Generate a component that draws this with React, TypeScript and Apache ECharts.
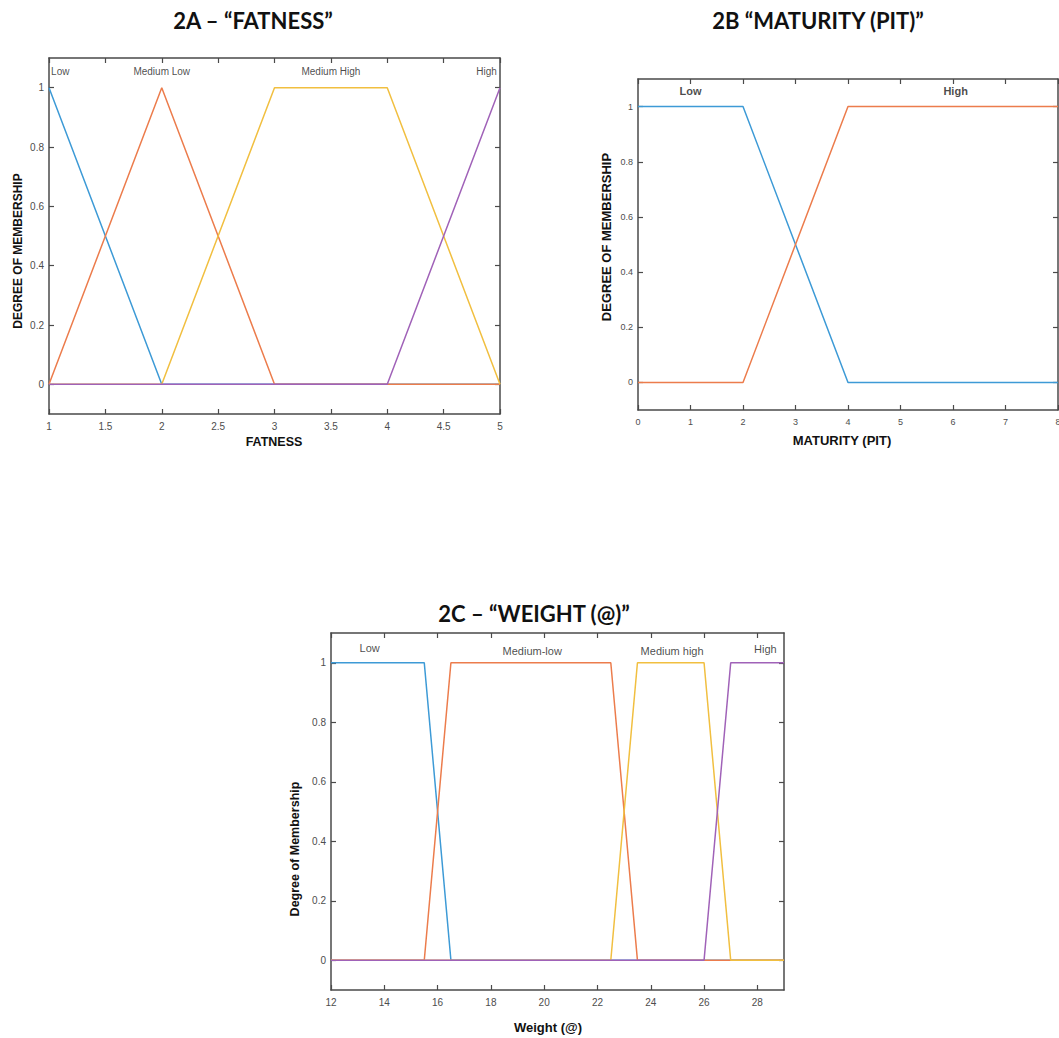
import React, { useEffect, useRef } from "react";
import * as echarts from "echarts";

// ---------- DATA ----------
const membershipTicks = [0, 0.2, 0.4, 0.6, 0.8, 1];

// 2A Fatness
const fatnessTicks = [1, 1.5, 2, 2.5, 3, 3.5, 4, 4.5, 5];
const fatnessLow = [[1, 1], [2, 0], [5, 0]];
const fatnessMedLow = [[1, 0], [2, 1], [3, 0], [5, 0]];
const fatnessMedHigh = [[1, 0], [2, 0], [3, 1], [4, 1], [5, 0]];
const fatnessHigh = [[1, 0], [4, 0], [5, 1]];
const fatnessNames = ["Low", "Medium Low", "Medium High", "High"];
const fatnessNameX = [1.1, 2.0, 3.5, 4.88];
const fatnessNameY = 1.055;

// 2B Maturity
const maturityTicks = [0, 1, 2, 3, 4, 5, 6, 7, 8];
const maturityLow = [[0, 1], [2, 1], [4, 0], [8, 0]];
const maturityHigh = [[0, 0], [2, 0], [4, 1], [8, 1]];
const maturityNames = ["Low", "High"];
const maturityNameX = [1.0, 6.05];
const maturityNameY = 1.058;

// 2C Weight
const weightTicks = [12, 14, 16, 18, 20, 22, 24, 26, 28];
const weightLow = [[12, 1], [15.5, 1], [16.5, 0], [29, 0]];
const weightMedLow = [[12, 0], [15.5, 0], [16.5, 1], [22.5, 1], [23.5, 0], [29, 0]];
const weightMedHigh = [[12, 0], [22.5, 0], [23.5, 1], [26, 1], [27, 0], [29, 0]];
const weightHigh = [[12, 0], [26, 0], [27, 1], [29, 1]];
const weightNames = ["Low", "Medium-low", "Medium high", "High"];
const weightNameX = [13.45, 19.55, 24.8, 28.3];
const weightNameY = [1.05, 1.04, 1.04, 1.045];

// ---------- STYLE ----------
const COLORS = ["#3d9ad6", "#ec7c4c", "#f1bf40", "#a062b8"];
const AXIS_COLOR = "#4a4a4a";
const LABEL_COLOR = "#4d4d4d";
const FONT = "Liberation Sans";

const grids = [
  { left: 49, top: 58, width: 451, height: 356, outerBoundsMode: "none" },
  { left: 638, top: 79, width: 420, height: 331, outerBoundsMode: "none" },
  { left: 331, top: 633, width: 453, height: 357, outerBoundsMode: "none" },
];

function xAxes(gi: number, min: number, max: number, interval: number, ticks: number[], fs: number) {
  const common = {
    type: "value",
    gridIndex: gi,
    min,
    max,
    interval,
    splitLine: { show: false },
    axisLine: { show: true, onZero: false, lineStyle: { color: AXIS_COLOR, width: 1.5 } },
    axisTick: { show: true, inside: true, length: 5, customValues: ticks, lineStyle: { color: AXIS_COLOR, width: 1.2 } },
  };
  return [
    {
      ...common,
      position: "bottom",
      axisLabel: {
        show: true,
        customValues: ticks,
        margin: 7,
        color: LABEL_COLOR,
        fontSize: fs,
        fontFamily: FONT,
        formatter: (v: number) => String(v),
      },
    },
    { ...common, position: "top", axisLabel: { show: false } },
  ];
}

function yAxes(gi: number, fs: number) {
  const common = {
    type: "value",
    gridIndex: gi,
    min: -0.1,
    max: 1.1,
    interval: 0.1,
    splitLine: { show: false },
    axisLine: { show: true, onZero: false, lineStyle: { color: AXIS_COLOR, width: 1.5 } },
    axisTick: { show: true, inside: true, length: 5, customValues: membershipTicks, lineStyle: { color: AXIS_COLOR, width: 1.2 } },
  };
  return [
    {
      ...common,
      position: "left",
      axisLabel: {
        show: true,
        customValues: membershipTicks,
        margin: 5,
        color: LABEL_COLOR,
        fontSize: fs,
        fontFamily: FONT,
        formatter: (v: number) => String(v),
      },
    },
    { ...common, position: "right", axisLabel: { show: false } },
  ];
}

function line(data: number[][], color: string, gi: number, z: number) {
  return {
    type: "line",
    data,
    xAxisIndex: gi * 2,
    yAxisIndex: gi * 2,
    showSymbol: false,
    symbol: "none",
    silent: true,
    z,
    lineStyle: { color, width: 1.5 },
  };
}

function nameLabels(names: string[], xs: number[], ys: number[], gi: number, fs: number, bold: boolean) {
  return {
    type: "scatter",
    xAxisIndex: gi * 2,
    yAxisIndex: gi * 2,
    symbolSize: 1,
    silent: true,
    itemStyle: { color: "rgba(0,0,0,0)" },
    data: names.map((n, i) => ({ name: n, value: [xs[i], ys[i]] })),
    label: {
      show: true,
      position: "inside",
      formatter: (p: any) => p.name,
      color: "#1a1a1a",
      fontSize: fs,
      fontFamily: FONT,
      fontWeight: bold ? "bold" : "normal",
    },
  };
}

function txt(text: string, x: number, y: number, font: string, rotate = false) {
  return {
    type: "text",
    x,
    y,
    rotation: rotate ? Math.PI / 2 : 0,
    style: { text, font, fill: "#111", align: "center", verticalAlign: "middle" },
  };
}

export default function App() {
  const ref = useRef<HTMLDivElement>(null);
  useEffect(() => {
    document.body.style.margin = "0";
    if (!ref.current) return;
    const chart = echarts.init(ref.current, undefined, { renderer: "svg" });
    const titleFont = 'bold 22px "Lato"';
    chart.setOption({
      animation: false,
      backgroundColor: "#ffffff",
      grid: grids,
      xAxis: [
        ...xAxes(0, 1, 5, 0.5, fatnessTicks, 10),
        ...xAxes(1, 0, 8, 1, maturityTicks, 9),
        ...xAxes(2, 12, 29, 1, weightTicks, 10),
      ],
      yAxis: [...yAxes(0, 10), ...yAxes(1, 9), ...yAxes(2, 10)],
      series: [
        line(fatnessLow, COLORS[0], 0, 1),
        line(fatnessMedLow, COLORS[1], 0, 2),
        line(fatnessMedHigh, COLORS[2], 0, 3),
        line(fatnessHigh, COLORS[3], 0, 4),
        nameLabels(fatnessNames, fatnessNameX, fatnessNames.map(() => fatnessNameY), 0, 10, false),
        line(maturityLow, COLORS[0], 1, 1),
        line(maturityHigh, COLORS[1], 1, 2),
        nameLabels(maturityNames, maturityNameX, maturityNames.map(() => maturityNameY), 1, 11, true),
        line(weightLow, COLORS[0], 2, 1),
        line(weightMedLow, COLORS[1], 2, 2),
        line(weightMedHigh, COLORS[2], 2, 3),
        line(weightHigh, COLORS[3], 2, 4),
        nameLabels(weightNames, weightNameX, weightNameY, 2, 11, false),
      ],
      graphic: [
        txt("2A – “FATNESS”", 253, 20, titleFont),
        txt("2B “MATURITY (PIT)”", 818, 20, titleFont),
        txt("2C – “WEIGHT (@)”", 534, 613, titleFont),
        txt("DEGREE OF MEMBERSHIP", 18, 251, `bold 12px "${FONT}"`, true),
        txt("FATNESS", 274, 442, `bold 12.5px "${FONT}"`),
        txt("DEGREE OF MEMBERSHIP", 606, 237, `bold 13px "${FONT}"`, true),
        txt("MATURITY (PIT)", 842, 440, `bold 13px "${FONT}"`),
        txt("Degree of Membership", 295, 849, `bold 12.5px "${FONT}"`, true),
        txt("Weight (@)", 548, 1027, `bold 13px "${FONT}"`),
      ],
    });
    return () => chart.dispose();
  }, []);
  return <div ref={ref} style={{ width: 1059, height: 1038 }} />;
}
